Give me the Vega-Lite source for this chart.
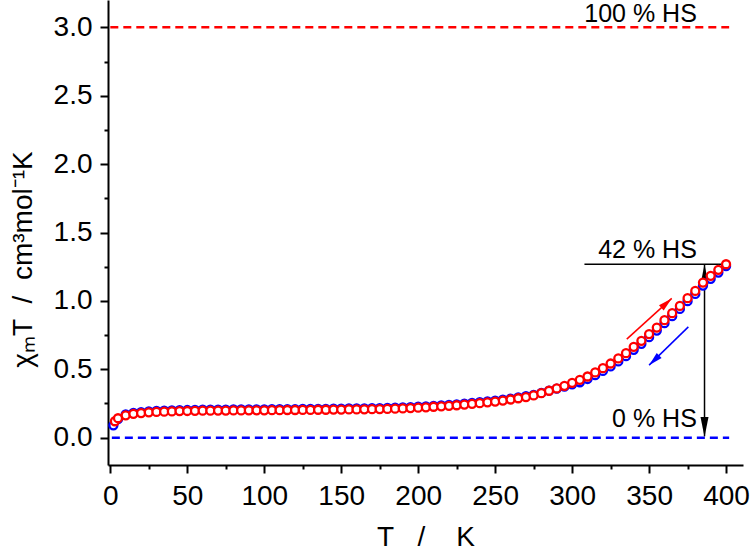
{
  "$schema": "https://vega.github.io/schema/vega-lite/v6.json",
  "width": 635,
  "height": 465,
  "autosize": {"type": "none"},
  "padding": {"left": 108, "top": 0, "right": 7, "bottom": 89},
  "background": "white",
  "config": {
    "view": {"stroke": null},
    "font": "Liberation Sans",
    "axis": {
      "grid": false,
      "domainColor": "black",
      "domainWidth": 2,
      "tickColor": "black",
      "tickWidth": 2,
      "labelColor": "black",
      "labelFont": "Liberation Sans",
      "labelFontSize": 28,
      "labelOverlap": false,
      "titleColor": "black",
      "titleFont": "Liberation Sans",
      "titleFontSize": 28,
      "titleFontWeight": "normal"
    }
  },
  "datasets": {
    "heat": [
      {"T": 3, "v": 0.12}, {"T": 5, "v": 0.142}, {"T": 10, "v": 0.163}, {"T": 15, "v": 0.174}, {"T": 20, "v": 0.18},
      {"T": 25, "v": 0.185}, {"T": 30, "v": 0.188}, {"T": 35, "v": 0.19}, {"T": 40, "v": 0.192}, {"T": 45, "v": 0.194},
      {"T": 50, "v": 0.195}, {"T": 55, "v": 0.196}, {"T": 60, "v": 0.197}, {"T": 65, "v": 0.197}, {"T": 70, "v": 0.198},
      {"T": 75, "v": 0.198}, {"T": 80, "v": 0.199}, {"T": 85, "v": 0.199}, {"T": 90, "v": 0.2}, {"T": 95, "v": 0.2},
      {"T": 100, "v": 0.2}, {"T": 105, "v": 0.201}, {"T": 110, "v": 0.201}, {"T": 115, "v": 0.202}, {"T": 120, "v": 0.202},
      {"T": 125, "v": 0.203}, {"T": 130, "v": 0.203}, {"T": 135, "v": 0.204}, {"T": 140, "v": 0.204}, {"T": 145, "v": 0.205},
      {"T": 150, "v": 0.205}, {"T": 155, "v": 0.206}, {"T": 160, "v": 0.206}, {"T": 165, "v": 0.207}, {"T": 170, "v": 0.208},
      {"T": 175, "v": 0.209}, {"T": 180, "v": 0.21}, {"T": 185, "v": 0.212}, {"T": 190, "v": 0.214}, {"T": 195, "v": 0.216},
      {"T": 200, "v": 0.219}, {"T": 205, "v": 0.222}, {"T": 210, "v": 0.226}, {"T": 215, "v": 0.229}, {"T": 220, "v": 0.233},
      {"T": 225, "v": 0.237}, {"T": 230, "v": 0.242}, {"T": 235, "v": 0.247}, {"T": 240, "v": 0.252}, {"T": 245, "v": 0.258},
      {"T": 250, "v": 0.264}, {"T": 255, "v": 0.271}, {"T": 260, "v": 0.279}, {"T": 265, "v": 0.288}, {"T": 270, "v": 0.297},
      {"T": 275, "v": 0.309}, {"T": 280, "v": 0.325}, {"T": 285, "v": 0.343}, {"T": 290, "v": 0.36}, {"T": 295, "v": 0.379},
      {"T": 300, "v": 0.401}, {"T": 305, "v": 0.423}, {"T": 310, "v": 0.447}, {"T": 315, "v": 0.477}, {"T": 320, "v": 0.508},
      {"T": 325, "v": 0.542}, {"T": 330, "v": 0.579}, {"T": 335, "v": 0.618}, {"T": 340, "v": 0.664}, {"T": 345, "v": 0.708},
      {"T": 350, "v": 0.757}, {"T": 355, "v": 0.805}, {"T": 360, "v": 0.859}, {"T": 365, "v": 0.91}, {"T": 370, "v": 0.963},
      {"T": 375, "v": 1.02}, {"T": 380, "v": 1.073}, {"T": 385, "v": 1.134}, {"T": 390, "v": 1.183}, {"T": 395, "v": 1.227},
      {"T": 400, "v": 1.268}
    ],
    "cool": [
      {"T": 2, "v": 0.09}, {"T": 5, "v": 0.135}, {"T": 10, "v": 0.17}, {"T": 15, "v": 0.181}, {"T": 20, "v": 0.187},
      {"T": 25, "v": 0.192}, {"T": 30, "v": 0.195}, {"T": 35, "v": 0.197}, {"T": 40, "v": 0.199}, {"T": 45, "v": 0.201},
      {"T": 50, "v": 0.202}, {"T": 55, "v": 0.203}, {"T": 60, "v": 0.204}, {"T": 65, "v": 0.204}, {"T": 70, "v": 0.205},
      {"T": 75, "v": 0.205}, {"T": 80, "v": 0.206}, {"T": 85, "v": 0.206}, {"T": 90, "v": 0.207}, {"T": 95, "v": 0.207},
      {"T": 100, "v": 0.207}, {"T": 105, "v": 0.208}, {"T": 110, "v": 0.208}, {"T": 115, "v": 0.209}, {"T": 120, "v": 0.209},
      {"T": 125, "v": 0.21}, {"T": 130, "v": 0.21}, {"T": 135, "v": 0.211}, {"T": 140, "v": 0.211}, {"T": 145, "v": 0.212},
      {"T": 150, "v": 0.212}, {"T": 155, "v": 0.213}, {"T": 160, "v": 0.213}, {"T": 165, "v": 0.214}, {"T": 170, "v": 0.215},
      {"T": 175, "v": 0.216}, {"T": 180, "v": 0.217}, {"T": 185, "v": 0.219}, {"T": 190, "v": 0.221}, {"T": 195, "v": 0.223},
      {"T": 200, "v": 0.226}, {"T": 205, "v": 0.229}, {"T": 210, "v": 0.233}, {"T": 215, "v": 0.236}, {"T": 220, "v": 0.24},
      {"T": 225, "v": 0.244}, {"T": 230, "v": 0.249}, {"T": 235, "v": 0.254}, {"T": 240, "v": 0.259}, {"T": 245, "v": 0.265},
      {"T": 250, "v": 0.271}, {"T": 255, "v": 0.278}, {"T": 260, "v": 0.286}, {"T": 265, "v": 0.294}, {"T": 270, "v": 0.303},
      {"T": 275, "v": 0.313}, {"T": 280, "v": 0.328}, {"T": 285, "v": 0.344}, {"T": 290, "v": 0.358}, {"T": 295, "v": 0.373},
      {"T": 300, "v": 0.39}, {"T": 305, "v": 0.405}, {"T": 310, "v": 0.429}, {"T": 315, "v": 0.457}, {"T": 320, "v": 0.488},
      {"T": 325, "v": 0.521}, {"T": 330, "v": 0.557}, {"T": 335, "v": 0.596}, {"T": 340, "v": 0.642}, {"T": 345, "v": 0.686},
      {"T": 350, "v": 0.735}, {"T": 355, "v": 0.783}, {"T": 360, "v": 0.837}, {"T": 365, "v": 0.888}, {"T": 370, "v": 0.941},
      {"T": 375, "v": 0.998}, {"T": 380, "v": 1.051}, {"T": 385, "v": 1.112}, {"T": 390, "v": 1.161}, {"T": 395, "v": 1.207},
      {"T": 400, "v": 1.255}
    ]
  },
  "encoding": {
    "x": {
      "field": "T",
      "type": "quantitative",
      "scale": {"domain": [-1.5, 411], "nice": false, "zero": false},
      "axis": {
        "values": [0, 25, 50, 75, 100, 125, 150, 175, 200, 225, 250, 275, 300, 325, 350, 375, 400],
        "labelExpr": "datum.value % 50 === 0 ? format(datum.value, 'd') : ''",
        "tickSize": {"condition": {"test": "datum.value % 50 !== 0", "value": 4}, "value": 8},
        "labelPadding": 9,
        "titlePadding": 13,
        "title": "T\u00a0\u00a0\u00a0/\u00a0\u00a0\u00a0\u00a0K"
      }
    },
    "y": {
      "field": "v",
      "type": "quantitative",
      "scale": {"domain": [-0.2, 3.2], "nice": false, "zero": false},
      "axis": {
        "values": [0, 0.25, 0.5, 0.75, 1, 1.25, 1.5, 1.75, 2, 2.25, 2.5, 2.75, 3],
        "labelExpr": "datum.value % 0.5 === 0 ? format(datum.value, '.1f') : ''",
        "tickSize": {"condition": {"test": "datum.value % 0.5 !== 0", "value": 4}, "value": 8},
        "labelPadding": 8,
        "titlePadding": 16,
        "titleY": 259,
        "title": "χₘT\u00a0\u00a0/\u00a0\u00a0cm³mol⁻¹K"
      }
    }
  },
  "layer": [
    {
      "data": {"values": [{"T": 0, "T2": 402, "v": 3.0}]},
      "mark": {"type": "rule", "color": "#ff0000", "strokeWidth": 2.5, "strokeDash": [8, 5]},
      "encoding": {"x2": {"field": "T2"}}
    },
    {
      "data": {"values": [{"T": 1, "T2": 402, "v": 0.0}]},
      "mark": {"type": "rule", "color": "#0000ff", "strokeWidth": 2.5, "strokeDash": [8, 5]},
      "encoding": {"x2": {"field": "T2"}}
    },
    {
      "data": {"values": [{"T": 308, "T2": 400, "v": 1.268}]},
      "mark": {"type": "rule", "color": "black", "strokeWidth": 1.5},
      "encoding": {"x2": {"field": "T2"}}
    },
    {
      "data": {"values": [{"T": 386, "v": 0.01, "v2": 1.268}]},
      "mark": {"type": "rule", "color": "black", "strokeWidth": 1.5},
      "encoding": {"y2": {"field": "v2"}}
    },
    {
      "data": {"values": [{"T": 335.5, "v": 0.72, "T2": 364.7, "v2": 1.018}]},
      "mark": {"type": "rule", "color": "#ff0000", "strokeWidth": 1.5},
      "encoding": {"x2": {"field": "T2"}, "y2": {"field": "v2"}}
    },
    {
      "data": {"values": [{"T": 375.5, "v": 0.81, "T2": 350, "v2": 0.53}]},
      "mark": {"type": "rule", "color": "#0000ff", "strokeWidth": 1.5},
      "encoding": {"x2": {"field": "T2"}, "y2": {"field": "v2"}}
    },
    {
      "data": {"values": [{"T": 386, "v": 1.268}]},
      "mark": {"type": "point", "shape": "M0,0L-0.4,2L0.4,2Z", "size": 400, "filled": true, "color": "black", "opacity": 1, "angle": 0}
    },
    {
      "data": {"values": [{"T": 386, "v": 0.005}]},
      "mark": {"type": "point", "shape": "M0,0L-0.4,2L0.4,2Z", "size": 400, "filled": true, "color": "black", "opacity": 1, "angle": 180}
    },
    {
      "data": {"values": [{"T": 364.7, "v": 1.018}]},
      "mark": {"type": "point", "shape": "M0,0L-0.5,2L0.5,2Z", "size": 196, "filled": true, "color": "#ff0000", "opacity": 1, "angle": 48}
    },
    {
      "data": {"values": [{"T": 350, "v": 0.53}]},
      "mark": {"type": "point", "shape": "M0,0L-0.5,2L0.5,2Z", "size": 196, "filled": true, "color": "#0000ff", "opacity": 1, "angle": 226}
    },
    {
      "data": {"name": "cool"},
      "mark": {"type": "point", "shape": "circle", "size": 64, "filled": true, "fill": "white", "stroke": "#0000ff", "strokeWidth": 2.3, "opacity": 1}
    },
    {
      "data": {"name": "heat"},
      "mark": {"type": "point", "shape": "circle", "size": 64, "filled": true, "fill": "white", "stroke": "#ff0000", "strokeWidth": 2.3, "opacity": 1}
    },
    {
      "data": {"values": [
        {"T": 381, "v": 3.037, "label": "100 % HS"},
        {"T": 381, "v": 1.31, "label": "42 % HS"},
        {"T": 381, "v": 0.078, "label": "0 % HS"}
      ]},
      "mark": {"type": "text", "align": "right", "baseline": "alphabetic", "fontSize": 25, "font": "Liberation Sans", "color": "black"},
      "encoding": {"text": {"field": "label"}}
    }
  ]
}
